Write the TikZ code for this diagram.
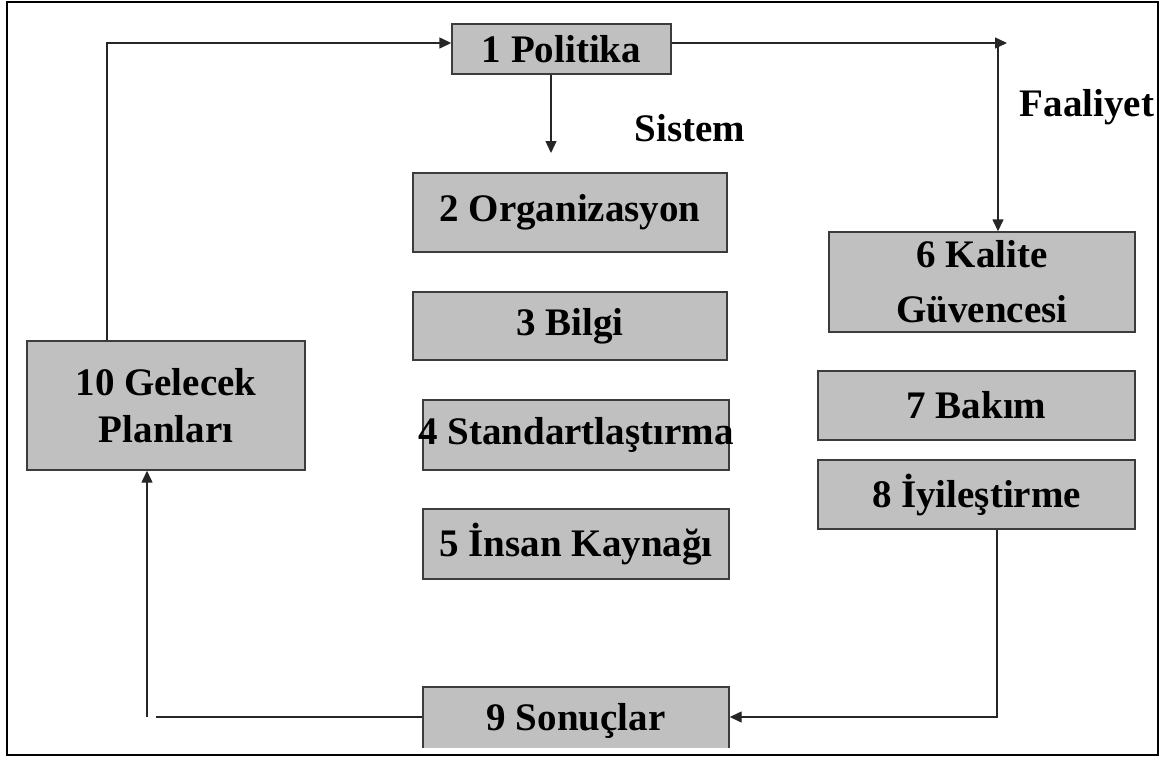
\documentclass[tikz,border=0pt]{standalone}
\usepackage{fontspec}
\setmainfont{Liberation Serif}
\usepackage{xcolor}
\usepackage{tikz}
\usetikzlibrary{arrows.meta, positioning, calc}

\definecolor{boxgray}{RGB}{192,192,192}
\definecolor{edgegray}{RGB}{60,60,60}

\begin{document}
\begin{tikzpicture}[
    x=1pt, y=-1pt,
    stage/.style={
        rectangle,
        draw=edgegray,
        line width=1.4pt,
        fill=boxgray,
        inner sep=0pt,
        align=center,
        font=\bfseries\fontsize{39}{45}\selectfont
    },
    caption/.style={font=\bfseries\fontsize{39}{45}\selectfont},
    arrow/.style={-{Triangle[length=12pt,width=11pt]}, line width=1.4pt, draw=black!85},
    link/.style={line width=1.4pt, draw=black!85}
]

\useasboundingbox (0,0) rectangle (1168,758);
\draw[line width=2.4pt] (7,2) rectangle (1158,755);

\node[stage, minimum width=219pt, minimum height=50pt] (pol) at (561.5,49) {1 Politika};

\node[stage, minimum width=314pt, minimum height=79pt] (org) at (570,212.5) {2 Organizasyon};
\node[stage, minimum width=314pt, minimum height=68pt] (bil) at (570,326) {3 Bilgi};
\node[stage, minimum width=306pt, minimum height=70pt] (std) at (576,435) {\makebox[306pt]{4 Standartlaştırma}};
\node[stage, minimum width=306pt, minimum height=70pt] (ins) at (576,544) {5 İnsan Kaynağı};

\begin{scope}
    \clip (0,0) rectangle (1168,747);
    \node[stage, minimum width=306pt, minimum height=68pt] (son) at (576,721) {9 Sonuçlar};
\end{scope}

\node[stage, minimum width=306pt, minimum height=100pt] (kal) at (982,282) {6 Kalite\\[10pt]Güvencesi};
\node[stage, minimum width=317pt, minimum height=69pt] (bak) at (976.5,405.5) {7 Bakım};
\node[stage, minimum width=317pt, minimum height=69pt] (iyi) at (976.5,494.5) {8 İyileştirme};

\node[stage, minimum width=278pt, minimum height=129pt] (gel) at (166,405.5) {10 Gelecek\\[2pt]Planları};

\node[caption] (sis) at (690,128) {Sistem};
\node[caption] (faa) at (1087,107) {Faaliyet};

\coordinate (ul) at (107,43);
\coordinate (ur) at (1007,43);
\coordinate (urv) at (998,43);
\coordinate (sisarr) at (551,153);
\coordinate (br) at (997,717);
\coordinate (bl) at (156,717);
\coordinate (blv) at (147,717);

\draw[arrow] (gel.north -| ul) -- (ul) -- (ul -| pol.west);
\draw[arrow] (pol.east |- ur) -- (ur);
\draw[arrow] (urv) -- (kal.north -| urv);
\draw[arrow] (pol.south -| sisarr) -- (sisarr);
\draw[arrow] (iyi.south -| br) -- (br) -- (br -| son.east);
\draw[link] (son.west |- bl) -- (bl);
\draw[arrow] (blv) -- (gel.south -| blv);

\end{tikzpicture}
\end{document}
